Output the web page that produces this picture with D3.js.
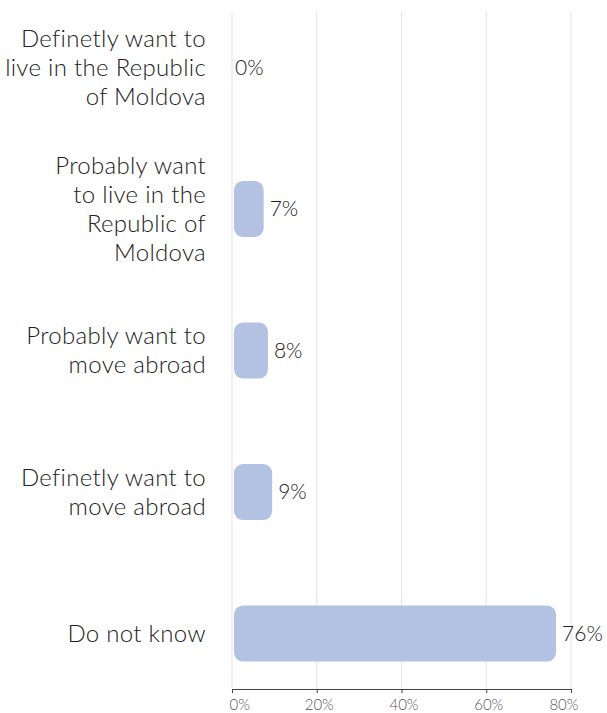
<!DOCTYPE html>
<html>
<head>
<meta charset="utf-8">
<script src="https://cdn.jsdelivr.net/npm/d3@7"></script>
<style>
  html, body { margin: 0; padding: 0; background: #ffffff; }
  svg { display: block; }
</style>
</head>
<body>
<svg id="chart" width="607" height="713"></svg>
<script>
// Survey answers, one label line per array entry
const categories = [
  ["Definetly want to", "live in the Republic", "of Moldova"],
  ["Probably want", "to live in the", "Republic of", "Moldova"],
  ["Probably want to", "move abroad"],
  ["Definetly want to", "move abroad"],
  ["Do not know"]
];
const values = [0, 7, 8, 9, 76];
const tickValues = [0, 20, 40, 60, 80];

const svg = d3.select("#chart");
const fontFamily = "Lato, 'Open Sans', sans-serif";

const plotLeft = 232, plotRight = 571, plotTop = 12, plotBottom = 689;

const x = d3.scaleLinear().domain([0, 80]).range([plotLeft, plotRight]);
const y = d3.scaleBand()
  .domain(d3.range(categories.length))
  .range([plotTop, plotBottom])
  .paddingInner(0.604)
  .paddingOuter(0.194);

// vertical grid
svg.append("g")
  .selectAll("line")
  .data(tickValues)
  .join("line")
  .attr("x1", d => x(d)).attr("x2", d => x(d))
  .attr("y1", plotTop).attr("y2", plotBottom)
  .attr("stroke", "#e3e3e3")
  .attr("stroke-width", 1);

// bars
svg.append("g")
  .selectAll("rect")
  .data(values)
  .join("rect")
  .attr("x", x(0) + 2)
  .attr("y", (d, i) => y(i))
  .attr("width", d => Math.max(0, x(d) - x(0)))
  .attr("height", y.bandwidth())
  .attr("rx", 9).attr("ry", 9)
  .attr("fill", "#b3c2e3");

// value labels
svg.append("g")
  .selectAll("text")
  .data(values)
  .join("text")
  .attr("x", d => d > 0 ? x(d) + 8 : x(0) + 3)
  .attr("y", (d, i) => y(i) + y.bandwidth() / 2)
  .attr("dy", "0.35em")
  .attr("font-family", fontFamily)
  .attr("font-weight", 300)
  .attr("font-size", 21)
  .attr("fill", "#222222")
  .text(d => d + "%");

// category labels
const lineHeight = 29;
svg.append("g")
  .selectAll("text")
  .data(categories)
  .join("text")
  .attr("font-family", fontFamily)
  .attr("font-weight", 300)
  .attr("font-size", 24)
  .attr("letter-spacing", 0.3)
  .attr("fill", "#222222")
  .attr("text-anchor", "end")
  .each(function (lines, i) {
    const cy = y(i) + y.bandwidth() / 2;
    const start = cy - (lines.length - 1) * lineHeight / 2;
    d3.select(this).selectAll("tspan")
      .data(lines)
      .join("tspan")
      .attr("x", 206)
      .attr("y", (d, j) => start + j * lineHeight)
      .attr("dy", "0.35em")
      .text(d => d);
  });

// x axis; the end labels are kept inside the plot edges
const axis = svg.append("g")
  .attr("transform", `translate(0,${plotBottom})`)
  .call(d3.axisBottom(x).tickValues(tickValues).tickSize(4).tickFormat(d => d + "%"));
axis.select(".domain").attr("stroke", "#444444");
axis.selectAll(".tick line").attr("stroke", "#444444");
const last = tickValues.length - 1;
axis.selectAll(".tick text")
  .attr("font-family", fontFamily)
  .attr("font-weight", 300)
  .attr("font-size", 15)
  .attr("fill", "#555555")
  .attr("dy", "0.95em")
  .attr("text-anchor", (d, i) => i === 0 ? "start" : i === last ? "end" : "middle")
  .attr("x", (d, i) => i === 0 ? -3 : i === last ? 7 : 2);
</script>
</body>
</html>
